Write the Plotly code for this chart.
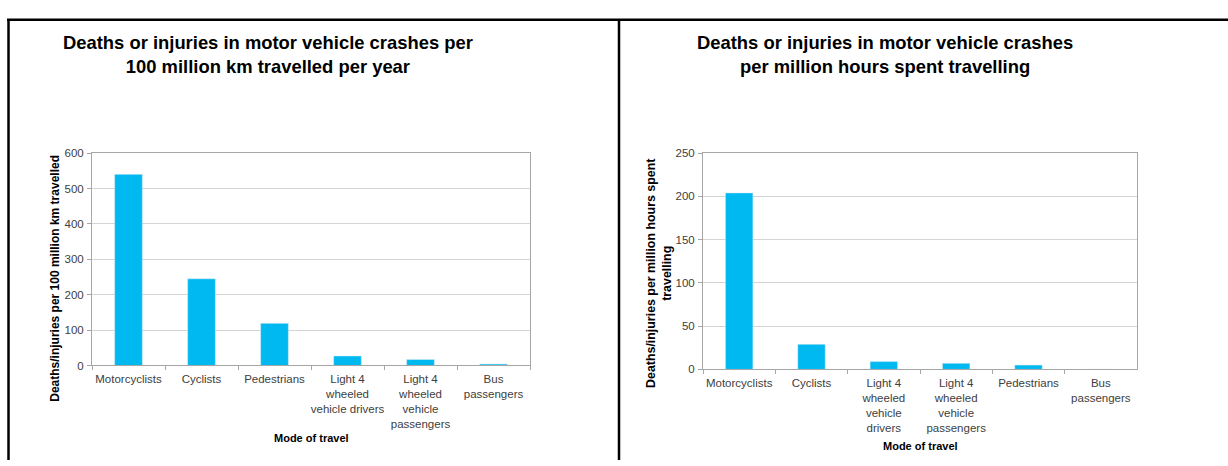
import plotly.graph_objects as go

W, H = 1228, 466

cats_km = ["Motorcyclists", "Cyclists", "Pedestrians",
           "Light 4<br>wheeled<br>vehicle drivers",
           "Light 4<br>wheeled<br>vehicle<br>passengers",
           "Bus<br>passengers"]
vals_km = [540, 245, 119, 27, 17, 4]

cats_hr = ["Motorcyclists", "Cyclists",
           "Light 4<br>wheeled<br>vehicle<br>drivers",
           "Light 4<br>wheeled<br>vehicle<br>passengers",
           "Pedestrians", "Bus<br>passengers"]
vals_hr = [204, 29, 9, 7, 5, 0.3]

yticks_km = [0, 100, 200, 300, 400, 500, 600]
yticks_hr = [0, 50, 100, 150, 200, 250]

BAR = "#00B9F1"
GRID = "#D4D4D4"
AXL = "#A6A6A6"
TICKF = dict(family="Liberation Sans, Arial, sans-serif", size=11.5, color="#404040")
TITLEF = dict(family="Liberation Sans, Arial, sans-serif", size=18.4, color="#000000")
BOLDF = dict(family="Liberation Sans, Arial, sans-serif", size=11, color="#000000")
YTF_L = dict(family="Liberation Sans, Arial, sans-serif", size=12.0, color="#000000")
YTF_R = dict(family="Liberation Sans, Arial, sans-serif", size=12.4, color="#000000")

def px(x):
    return x / W

def py(y):
    return 1 - y / H

fig = go.Figure()
fig.add_trace(go.Bar(x=cats_km, y=vals_km, marker_color=BAR, width=0.38,
                     xaxis="x", yaxis="y", showlegend=False))
fig.add_trace(go.Bar(x=cats_hr, y=vals_hr, marker_color=BAR, width=0.38,
                     xaxis="x2", yaxis="y2", showlegend=False))

xcommon = dict(type="category", showgrid=False, showline=True, linecolor=AXL,
               linewidth=1, ticks="outside", tickson="boundaries", ticklen=4,
               tickcolor=AXL, tickfont=TICKF, tickangle=0, mirror=True,
               ticklabelstandoff=3, fixedrange=True)
ycommon = dict(showgrid=True, gridcolor=GRID, gridwidth=1, showline=True,
               linecolor=AXL, linewidth=1, ticks="outside", ticklen=4,
               tickcolor=AXL, tickfont=TICKF, zeroline=False, mirror=True,
               ticklabelstandoff=1, fixedrange=True)

fig.update_layout(
    width=W, height=H,
    margin=dict(l=0, r=0, t=0, b=0),
    paper_bgcolor="white", plot_bgcolor="white",
    xaxis=dict(domain=[px(92), px(530)], anchor="y", **xcommon),
    yaxis=dict(domain=[py(369), py(151)], anchor="x", range=[0, 600],
               tickvals=yticks_km, **ycommon),
    xaxis2=dict(domain=[px(703), px(1137)], anchor="y2", **xcommon),
    yaxis2=dict(domain=[py(373), py(151)], anchor="x2", range=[0, 250],
                tickvals=yticks_hr, **ycommon),
)

ann = [
    dict(text="<b>Deaths or injuries in motor vehicle crashes per<br>100 million km travelled per year</b>",
         x=px(268), y=py(50), font=TITLEF),
    dict(text="<b>Deaths or injuries in motor vehicle crashes<br>per million hours spent travelling</b>",
         x=px(885), y=py(50), font=TITLEF),
    dict(text="<b>Deaths/injuries per 100 million km travelled</b>",
         x=px(55), y=py(280), textangle=-90, font=YTF_L),
    dict(text="<b>Deaths/injuries per million hours spent<br>travelling</b>",
         x=px(659), y=py(275), textangle=-90, font=YTF_R),
    dict(text="<b>Mode of travel</b>", x=px(311), y=py(443), font=BOLDF),
    dict(text="<b>Mode of travel</b>", x=px(920), y=py(452), font=BOLDF),
]
for a in ann:
    a.update(xref="paper", yref="paper", showarrow=False,
             xanchor="center", yanchor="middle", align="center")
fig.update_layout(annotations=ann)

shapes = [
    dict(type="line", x0=px(7), x1=1, y0=py(14), y1=py(14)),
    dict(type="line", x0=px(8.5), x1=px(8.5), y0=py(14), y1=0),
    dict(type="line", x0=px(619), x1=px(619), y0=py(14), y1=0),
]
for s in shapes:
    s.update(xref="paper", yref="paper", line=dict(color="black", width=2.5))
fig.update_layout(shapes=shapes)

fig.write_html(
    "out.html",
    config={"displayModeBar": False},
    post_script="document.body.style.margin='0';document.body.style.overflow='hidden';"
                "document.documentElement.style.overflow='hidden';",
)
